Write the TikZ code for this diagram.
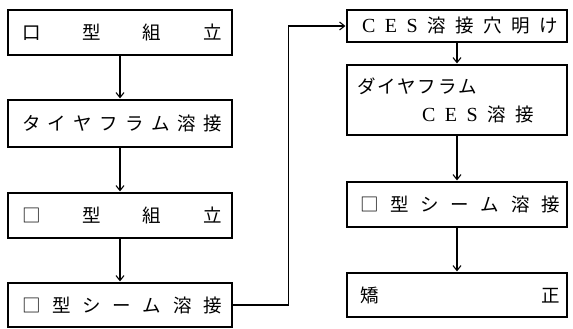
\documentclass[tikz,border=0pt]{standalone}
\usepackage{fontspec}
\setmainfont{Liberation Serif}
\newfontfamily\jp{Noto Sans CJK JP}
\usetikzlibrary{arrows.meta}
\tikzset{
  box/.style={draw, line width=1.2pt, rectangle, inner sep=0pt, minimum width=#1, font=\jp\fontsize{18.5}{30}\selectfont},
  box/.default=224pt,
  arr/.style={line width=1.1pt, -{Straight Barb[length=5pt,width=8pt,line width=1.1pt]}, shorten >=1pt}
}
\newcommand{\spreadtxt}[2]{\makebox[#1][s]{#2}}
\newcommand{\lat}[1]{{\rmfamily\fontsize{20}{30}\selectfont #1}}
\begin{document}
\begin{tikzpicture}[x=1pt,y=-1pt]
\useasboundingbox (0,0) rectangle (573,329);
% left column
\node[box, minimum height=45pt] (b1) at (120,32.5) {\hspace*{4pt}\spreadtxt{200pt}{口\hfill 型\hfill 組\hfill 立}};
\node[box, minimum height=47pt] (b2) at (120,123.5) {\hspace*{4pt}\spreadtxt{200pt}{タ\hfill イ\hfill ヤ\hfill フ\hfill ラ\hfill ム\hfill 溶\hfill 接}};
\node[box, minimum height=45pt] (b3) at (120,215.5) {\hspace*{4pt}\spreadtxt{200pt}{□\hfill 型\hfill 組\hfill 立}};
\node[box, minimum height=44pt] (b4) at (120,305) {\hspace*{4pt}\spreadtxt{200pt}{□\hfill 型\hfill シ\hfill ー\hfill ム\hfill 溶\hfill 接}};
% right column
\node[box=220pt, minimum height=32pt] (b5) at (457,26) {\hspace*{6pt}\spreadtxt{196pt}{\lat{C}\hfill \lat{E}\hfill \lat{S}\hfill 溶\hfill 接\hfill 穴\hfill 明\hfill け}};
\node[box=220pt, minimum height=70pt, text width=200pt, align=left] (b6) at (457,100) {\spreadtxt{120pt}{ダ\hfill イ\hfill ヤ\hfill フ\hfill ラ\hfill ム}\\[-2pt]\hspace*{65pt}\spreadtxt{112pt}{\lat{C}\hfill \lat{E}\hfill \lat{S}\hfill 溶\hfill 接}};
\node[box=220pt, minimum height=45pt] (b7) at (457,204.5) {\hspace*{6pt}\spreadtxt{200pt}{□\hfill 型\hfill シ\hfill ー\hfill ム\hfill 溶\hfill 接}};
\node[box=220pt, minimum height=44pt] (b8) at (457,295) {\hspace*{6pt}\spreadtxt{200pt}{矯\hfill 正}};
% connectors
\draw[arr] (b1) -- (b2);
\draw[arr] (b2) -- (b3);
\draw[arr] (b3) -- (b4);
\draw[arr] (b4.east) -- ++(56,0) |- (b5.west);
\draw[arr] (b5) -- (b6);
\draw[arr] (b6) -- (b7);
\draw[arr] (b7) -- (b8);
\end{tikzpicture}
\end{document}
